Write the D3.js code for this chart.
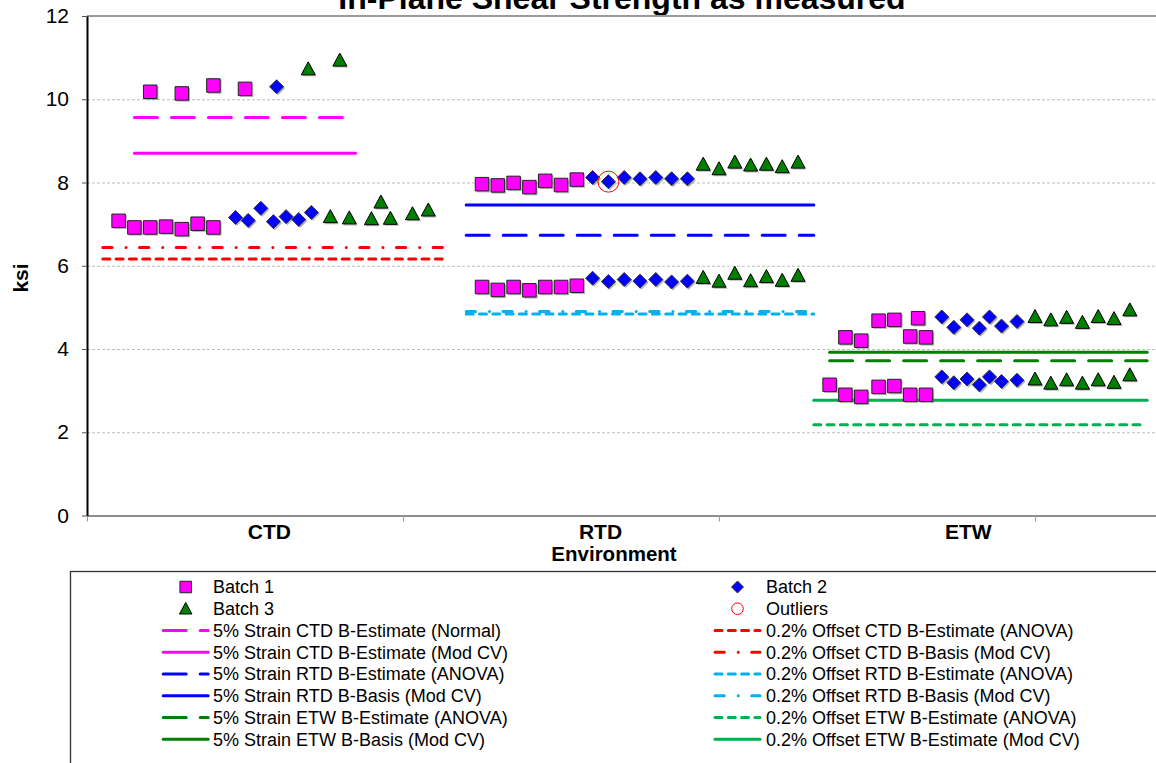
<!DOCTYPE html>
<html>
<head>
<meta charset="utf-8">
<script src="https://cdn.jsdelivr.net/npm/d3@7"></script>
<style>
  body { margin: 0; background: #fff; }
  svg { display: block; font-family: "Liberation Sans", Arial, sans-serif; }
</style>
</head>
<body>
<svg id="chart" width="1156" height="763"></svg>
<script>
// x = position on the chart's numeric x axis, y = strength in ksi
const batch1 = [
  [0.20, 10.18], [0.30, 10.14], [0.40, 10.33], [0.50, 10.25],
  [0.10, 7.08], [0.15, 6.92], [0.20, 6.92], [0.25, 6.94], [0.30, 6.88], [0.35, 7.01], [0.40, 6.92],
  [1.25, 7.96], [1.30, 7.93], [1.35, 7.99], [1.40, 7.89], [1.45, 8.04], [1.50, 7.94], [1.55, 8.07],
  [1.25, 5.49], [1.30, 5.42], [1.35, 5.49], [1.40, 5.41], [1.45, 5.49], [1.50, 5.49], [1.55, 5.52],
  [2.40, 4.28], [2.45, 4.20], [2.505, 4.68], [2.555, 4.70], [2.605, 4.30], [2.63, 4.74], [2.655, 4.28],
  [2.35, 3.14], [2.40, 2.90], [2.45, 2.85], [2.505, 3.09], [2.555, 3.11], [2.605, 2.90], [2.655, 2.90]
]
const batch2 = [
  [0.60, 10.30],
  [0.47, 7.16], [0.51, 7.09], [0.55, 7.38], [0.59, 7.06], [0.63, 7.18], [0.67, 7.11], [0.71, 7.28],
  [1.60, 8.12], [1.65, 8.02], [1.70, 8.12], [1.75, 8.09], [1.80, 8.12], [1.85, 8.09], [1.90, 8.09],
  [1.60, 5.70], [1.65, 5.62], [1.70, 5.67], [1.75, 5.63], [1.80, 5.67], [1.85, 5.61], [1.90, 5.63],
  [2.705, 4.77], [2.743, 4.52], [2.785, 4.70], [2.824, 4.50], [2.856, 4.77], [2.894, 4.55], [2.943, 4.66],
  [2.705, 3.33], [2.743, 3.19], [2.785, 3.28], [2.824, 3.14], [2.856, 3.33], [2.894, 3.22], [2.943, 3.25]
]
const batch3 = [
  [0.70, 10.73], [0.80, 10.94],
  [0.77, 7.18], [0.83, 7.15], [0.90, 7.13], [0.93, 7.53], [0.96, 7.14], [1.03, 7.25], [1.08, 7.34],
  [1.95, 8.44], [2.00, 8.33], [2.05, 8.49], [2.10, 8.42], [2.15, 8.44], [2.20, 8.38], [2.25, 8.49],
  [1.95, 5.72], [2.00, 5.63], [2.05, 5.82], [2.10, 5.64], [2.15, 5.74], [2.20, 5.65], [2.25, 5.77],
  [3.00, 4.78], [3.05, 4.70], [3.10, 4.76], [3.15, 4.64], [3.20, 4.78], [3.25, 4.73], [3.30, 4.94],
  [3.00, 3.28], [3.05, 3.18], [3.10, 3.26], [3.15, 3.18], [3.20, 3.26], [3.25, 3.20], [3.30, 3.38]
]
const outliers = [[1.65, 8.02]]

// reference lines, in legend order
const refNames = [
  '5% Strain CTD B-Estimate (Normal)', '0.2% Offset CTD B-Estimate (ANOVA)',
  '5% Strain CTD B-Estimate (Mod CV)', '0.2% Offset CTD B-Basis (Mod CV)',
  '5% Strain RTD B-Estimate (ANOVA)', '0.2% Offset RTD B-Estimate (ANOVA)',
  '5% Strain RTD B-Basis (Mod CV)', '0.2% Offset RTD B-Basis (Mod CV)',
  '5% Strain ETW B-Estimate (ANOVA)', '0.2% Offset ETW B-Estimate (ANOVA)',
  '5% Strain ETW B-Basis (Mod CV)', '0.2% Offset ETW B-Estimate (Mod CV)'
]
const refValues = [9.56, 6.16, 8.70, 6.44, 6.73, 4.84, 7.46, 4.90, 3.72, 2.18, 3.92, 2.77]
const refFrom = [0.15, 0.05, 0.15, 0.05, 1.20, 1.20, 1.20, 1.20, 2.35, 2.30, 2.35, 2.30]
const refTo = [0.85, 1.125, 0.85, 1.125, 2.30, 2.30, 2.30, 2.30, 3.355, 3.345, 3.355, 3.355]

const categories = ['CTD', 'RTD', 'ETW']
const categoryAt = [0.577, 1.625, 2.789]
const yTicks = [0, 2, 4, 6, 8, 10, 12]
const xTicks = [0, 1, 2, 3]

const title = 'In-Plane Shear Strength as measured'

// line looks
const dashes = {
  solid: null,
  long: '23,14',
  short: '7,6.3',
  dashDot: '9.3,13.9,0.1,13.4'
}
const refStyles = [
  ['#FF00FF', 'long'], ['#FF0000', 'short'],
  ['#FF00FF', 'solid'], ['#FF0000', 'dashDot'],
  ['#0000FF', 'long'], ['#00B0F0', 'short'],
  ['#0000FF', 'solid'], ['#00B0F0', 'dashDot'],
  ['#008000', 'long'], ['#00B050', 'short'],
  ['#008000', 'solid'], ['#00B050', 'solid']
]

const svg = d3.select('#chart')
const plot = { left: 87, top: 16, bottom: 515.5, right: 1162 }

const x = d3.scaleLinear().domain([0, 3.4]).range([plot.left, plot.left + 3.4 * 316])
const y = d3.scaleLinear().domain([0, 12]).range([plot.bottom, plot.top])

// title (mostly cut off at the top, as in the original crop)
svg.append('text')
  .attr('x', 622).attr('y', 8.5)
  .attr('text-anchor', 'middle')
  .attr('font-weight', 'bold').attr('font-size', 32)
  .text(title)

// grid
svg.append('g')
  .attr('transform', `translate(${plot.left},0)`)
  .call(d3.axisLeft(y).tickValues([2, 4, 6, 8, 10]).tickSize(-(plot.right - plot.left)).tickFormat(''))
  .call(g => g.select('.domain').remove())
  .selectAll('line')
  .attr('stroke', '#bdbdbd').attr('stroke-dasharray', '3,2')

// top border of the plot area
svg.append('line')
  .attr('x1', plot.left).attr('x2', plot.right)
  .attr('y1', y(12)).attr('y2', y(12))
  .attr('stroke', '#9a9a9a').attr('stroke-width', 2)

// x axis
svg.append('g')
  .attr('transform', `translate(0,${plot.bottom})`)
  .call(d3.axisBottom(x).tickValues(xTicks).tickSizeInner(6).tickSizeOuter(0).tickFormat(''))
  .call(g => g.select('.domain').attr('stroke', '#8c8c8c').attr('stroke-width', 2))
  .call(g => g.selectAll('.tick line').attr('stroke', '#9a9a9a'))

// y axis
svg.append('g')
  .attr('transform', `translate(${plot.left},0)`)
  .call(d3.axisLeft(y).tickValues(yTicks).tickSizeInner(5).tickSizeOuter(0).tickPadding(13))
  .call(g => g.select('.domain').attr('stroke', '#000').attr('stroke-width', 2))
  .call(g => g.selectAll('.tick line').attr('stroke', '#555'))
  .call(g => g.selectAll('.tick text')
    .attr('font-family', '"Liberation Sans", Arial, sans-serif')
    .attr('font-size', 21).attr('fill', '#000'))

svg.append('text')
  .attr('transform', 'translate(28,278) rotate(-90)')
  .attr('text-anchor', 'middle')
  .attr('font-weight', 'bold').attr('font-size', 21)
  .text('ksi')

svg.append('g').selectAll('text')
  .data(categories)
  .join('text')
  .attr('x', (d, i) => x(categoryAt[i]))
  .attr('y', 539)
  .attr('text-anchor', 'middle')
  .attr('font-weight', 'bold').attr('font-size', 21)
  .text(d => d)

svg.append('text')
  .attr('x', 614).attr('y', 561)
  .attr('text-anchor', 'middle')
  .attr('font-weight', 'bold').attr('font-size', 20.5)
  .text('Environment')

// reference lines
svg.append('g').selectAll('line')
  .data(refValues)
  .join('line')
  .attr('x1', (d, i) => x(refFrom[i]))
  .attr('x2', (d, i) => x(refTo[i]))
  .attr('y1', d => y(d))
  .attr('y2', d => y(d))
  .attr('stroke', (d, i) => refStyles[i][0])
  .attr('stroke-width', 3)
  .attr('stroke-linecap', 'round')
  .attr('stroke-dasharray', (d, i) => dashes[refStyles[i][1]])

// marker shapes
const squarePath = s => `M${-s / 2},${-s / 2}h${s}v${s}h${-s}Z`
const diamondPath = s => `M0,${-s / 2}L${s / 2},0L0,${s / 2}L${-s / 2},0Z`
const trianglePath = s => `M0,${-s / 2}L${s / 2},${s / 2 - 1}L${-s / 2},${s / 2 - 1}Z`

const markerSeries = [
  { data: batch1, path: squarePath(13.5), fill: '#FF00FF', stroke: '#222' },
  { data: batch2, path: diamondPath(14), fill: '#0000FF', stroke: '#333' },
  { data: batch3, path: trianglePath(14), fill: '#008000', stroke: '#000' }
]

markerSeries.forEach(s => {
  const g = svg.append('g')
  // soft shadow
  g.selectAll('path.shadow')
    .data(s.data)
    .join('path')
    .attr('class', 'shadow')
    .attr('d', s.path)
    .attr('transform', d => `translate(${x(d[0]) + 1.5},${y(d[1]) + 1.5})`)
    .attr('fill', '#7a7a7a').attr('opacity', 0.55)
  g.selectAll('path.mark')
    .data(s.data)
    .join('path')
    .attr('class', 'mark')
    .attr('d', s.path)
    .attr('transform', d => `translate(${x(d[0])},${y(d[1])})`)
    .attr('fill', s.fill)
    .attr('stroke', s.stroke).attr('stroke-width', 1)
})

svg.append('g').selectAll('circle')
  .data(outliers)
  .join('circle')
  .attr('cx', d => x(d[0]))
  .attr('cy', d => y(d[1]))
  .attr('r', 10.5)
  .attr('fill', 'none')
  .attr('stroke', '#FF0000').attr('stroke-width', 1)

// legend
svg.append('rect')
  .attr('x', 70.5).attr('y', 571.5)
  .attr('width', 1200).attr('height', 300)
  .attr('fill', '#fff').attr('stroke', '#333').attr('stroke-width', 1.3)

const legendItems = [
  { name: 'Batch 1', marker: squarePath(11.5), fill: '#FF00FF', stroke: '#222' },
  { name: 'Batch 2', marker: diamondPath(12), fill: '#0000FF', stroke: '#333' },
  { name: 'Batch 3', marker: trianglePath(12.5), fill: '#008000', stroke: '#000' },
  { name: 'Outliers', circle: true }
].concat(refNames.map((n, i) => ({ name: n, line: refStyles[i] })))

const colSymbol = [185.7, 737.5]
const colText = [213, 766]
const rowY = i => 587 + i * 21.75

const items = svg.append('g').selectAll('g')
  .data(legendItems)
  .join('g')
  .attr('transform', (d, i) => `translate(0,${rowY(Math.floor(i / 2))})`)

items.each(function (d, i) {
  const g = d3.select(this)
  const cx = colSymbol[i % 2]
  if (d.marker) {
    g.append('path')
      .attr('d', d.marker)
      .attr('transform', `translate(${cx},0)`)
      .attr('fill', d.fill).attr('stroke', d.stroke).attr('stroke-width', 1)
  } else if (d.circle) {
    g.append('circle')
      .attr('cx', cx).attr('cy', 0).attr('r', 5.8)
      .attr('fill', 'none').attr('stroke', '#FF0000').attr('stroke-width', 1)
  } else {
    g.append('line')
      .attr('x1', cx - 22.5).attr('x2', cx + 22.5)
      .attr('stroke', d.line[0]).attr('stroke-width', 3)
      .attr('stroke-linecap', 'round')
      .attr('stroke-dasharray', dashes[d.line[1]])
  }
  g.append('text')
    .attr('x', colText[i % 2])
    .attr('y', 6.3)
    .attr('font-size', 18)
    .text(d.name)
})
</script>
</body>
</html>
